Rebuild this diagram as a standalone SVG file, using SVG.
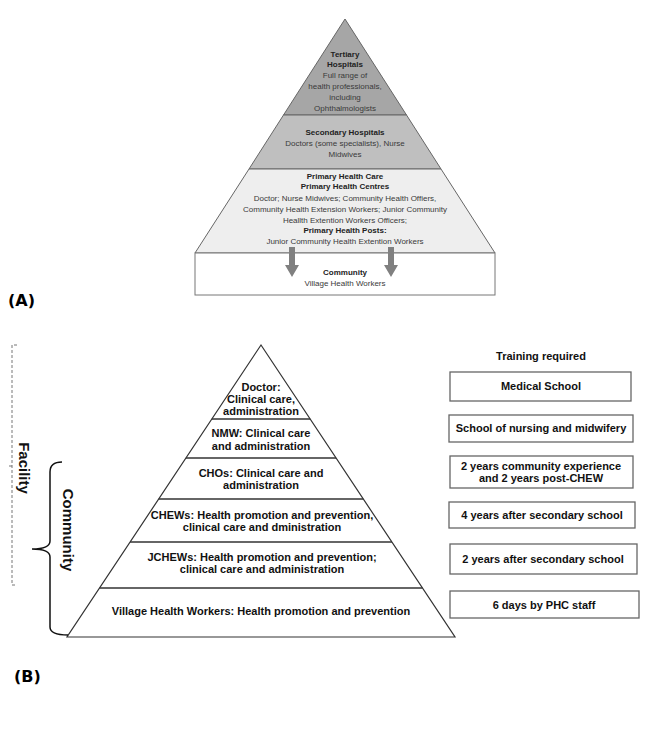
<svg xmlns="http://www.w3.org/2000/svg" width="666" height="734" viewBox="0 0 666 734">
<style>
.a{font-family:"Liberation Sans",Arial,sans-serif;font-size:8px;fill:#3a3a3a;text-anchor:middle}
.ab{font-weight:bold;fill:#222}
.b{font-family:"Liberation Sans",Arial,sans-serif;font-size:11px;font-weight:bold;fill:#111;text-anchor:middle}
.side{font-family:"Liberation Sans",Arial,sans-serif;font-size:15px;font-weight:bold;fill:#111;text-anchor:middle}
.lbl{font-family:"DejaVu Sans",Verdana,sans-serif;font-size:16px;font-weight:bold;fill:#000}
.box{fill:#fff;stroke:#666;stroke-width:1.3}
.band{stroke:#333;stroke-width:1.5}
.arr{fill:#808080}
</style>
<rect width="666" height="734" fill="#fff"/>

<!-- Part A -->
<g id="tertiary">
<polygon points="345,19 283.5,115 406.5,115" fill="#a6a6a6" stroke="#666" stroke-width="1"/>
<text class="a ab" x="345" y="57">Tertiary</text>
<text class="a ab" x="345" y="67">Hospitals</text>
<text class="a" x="345" y="78">Full range of</text>
<text class="a" x="345" y="89">health professionals,</text>
<text class="a" x="345" y="100">including</text>
<text class="a" x="345" y="111">Ophthalmologists</text>
</g>
<g id="secondary">
<polygon points="283.5,115 406.5,115 441,169 249,169" fill="#bfbfbf" stroke="#666" stroke-width="1"/>
<text class="a ab" x="345" y="135">Secondary Hospitals</text>
<text class="a" x="345" y="146">Doctors (some specialists), Nurse</text>
<text class="a" x="345" y="157">Midwives</text>
</g>
<g id="primary">
<polygon points="249,169 441,169 495,253 195,253" fill="#eeeeee" stroke="#666" stroke-width="1"/>
<text class="a ab" x="345" y="179">Primary Health Care</text>
<text class="a ab" x="345" y="189">Primary Health Centres</text>
<text class="a" x="345" y="201">Doctor; Nurse Midwives;  Community Health Offiers,</text>
<text class="a" x="345" y="212">Community Health Extension Workers; Junior Community</text>
<text class="a" x="345" y="223">Heallth Extention Workers Officers;</text>
<text class="a ab" x="345" y="233">Primary Health Posts:</text>
<text class="a" x="345" y="244">Junior Community Health Extention Workers</text>
</g>
<g id="community-a">
<rect x="195" y="253" width="300" height="42" fill="#fff" stroke="#777" stroke-width="1"/>
<text class="a ab" x="345" y="275">Community</text>
<text class="a" x="345" y="286">Village Health Workers</text>
</g>
<g id="connectors-a">
<polygon class="arr" points="289,247 295,247 295,265 299,265 292,277 285,265 289,265"/>
<polygon class="arr" points="388,247 394,247 394,265 398,265 391,277 384,265 388,265"/>
</g>
<text class="lbl" x="8" y="306">(A)</text>

<!-- Part B -->
<g id="pyramid-b">
<polygon points="261,345 455,637 67,637" fill="#fff" stroke="#333" stroke-width="1.2"/>
<line class="band" x1="211.8" y1="419" x2="310.2" y2="419"/>
<line class="band" x1="185.9" y1="458" x2="336.1" y2="458"/>
<line class="band" x1="158.7" y1="499" x2="363.3" y2="499"/>
<line class="band" x1="130.1" y1="542" x2="391.9" y2="542"/>
<line class="band" x1="99.6" y1="588" x2="422.4" y2="588"/>
</g>
<g id="doctor">
<text class="b" x="261" y="391">Doctor:</text>
<text class="b" x="261" y="403">Clinical care,</text>
<text class="b" x="261" y="415">administration</text>
</g>
<g id="nmw">
<text class="b" x="261" y="437">NMW: Clinical care</text>
<text class="b" x="261" y="450">and administration</text>
</g>
<g id="chos">
<text class="b" x="261" y="477">CHOs: Clinical care and</text>
<text class="b" x="261" y="489">administration</text>
</g>
<g id="chews">
<text class="b" x="262" y="519">CHEWs: Health promotion and prevention,</text>
<text class="b" x="262" y="531">clinical care and dministration</text>
</g>
<g id="jchews">
<text class="b" x="262" y="561">JCHEWs: Health promotion and prevention;</text>
<text class="b" x="262" y="573">clinical care and administration</text>
</g>
<g id="vhw">
<text class="b" x="261" y="615">Village Health Workers: Health promotion and prevention</text>
</g>

<text class="b" x="541" y="360">Training required</text>
<g id="t-medical">
<rect class="box" x="450" y="372" width="181" height="29"/>
<text class="b" x="541" y="390">Medical School</text>
</g>
<g id="t-nursing">
<rect class="box" x="449" y="415" width="184" height="27"/>
<text class="b" x="541" y="432">School of nursing and midwifery</text>
</g>
<g id="t-cho">
<rect class="box" x="450" y="456" width="183" height="32"/>
<text class="b" x="541" y="470">2 years community experience</text>
<text class="b" x="541" y="482">and 2 years post-CHEW</text>
</g>
<g id="t-chew">
<rect class="box" x="449" y="502" width="186" height="26"/>
<text class="b" x="542" y="519">4 years after secondary school</text>
</g>
<g id="t-jchew">
<rect class="box" x="450" y="544" width="187" height="30"/>
<text class="b" x="543" y="563">2 years after secondary school</text>
</g>
<g id="t-vhw">
<rect class="box" x="450" y="591" width="189" height="27"/>
<text class="b" x="544" y="609">6 days by PHC staff</text>
</g>

<g id="brackets">
<path d="M17,345 L12,345 L12,585 L17,585 M12,466 L8,466" fill="none" stroke="#777" stroke-width="1" stroke-dasharray="3,2"/>
<path d="M62,462 Q50,462 50,472 L50,541 Q50,549 32,549 Q50,549 50,557 L50,627 Q50,635 68,635" fill="none" stroke="#111" stroke-width="1.5"/>
</g>
<text class="side" transform="translate(19,468) rotate(90)">Facility</text>
<text class="side" transform="translate(63,530) rotate(90)">Community</text>

<text class="lbl" x="14" y="682">(B)</text>
</svg>
